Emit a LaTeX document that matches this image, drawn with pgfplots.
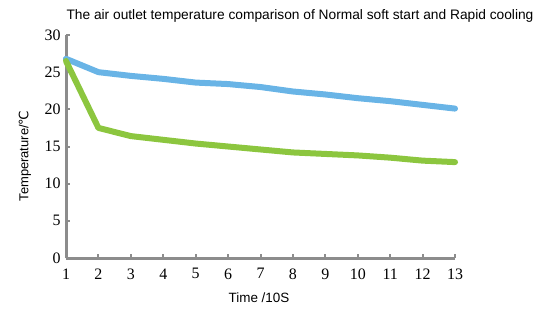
\documentclass[border=0pt]{standalone}
\usepackage{pgfplots}
\pgfplotsset{compat=1.18}
\usepackage{fontspec}
\setmainfont{Liberation Serif}
\newfontfamily\arial{Liberation Sans}
\newfontfamily\dejavu{DejaVu Sans}
\definecolor{cblue}{RGB}{105,180,230}
\definecolor{cgreen}{RGB}{140,198,63}
\definecolor{axgray}{RGB}{140,140,140}
\begin{document}
\begin{tikzpicture}[x=1bp,y=1bp]
\path[use as bounding box] (0,0) rectangle (544,312);
\begin{axis}[
  at={(66bp,54bp)}, anchor=south west,
  scale only axis, width=389bp, height=223bp,
  xmin=1, xmax=13, ymin=0, ymax=30,
  xtick={1,...,13}, ytick={0,5,...,30},
  axis x line*=bottom, axis y line*=left,
  axis line style={axgray, line width=3bp, -},
  tick style={axgray, line width=2bp},
  major tick length=4bp,
  tick align=inside,
  tick label style={font=\fontsize{16}{18}\selectfont},
  /pgf/number format/assume math mode=true,
  xticklabel style={yshift=-7bp},
  yticklabel style={xshift=-2bp},
  clip=false,
]
\addplot[cblue, line width=6bp, line cap=round, line join=round] coordinates {
(1,26.8) (2,25.0) (3,24.5) (4,24.1) (5,23.6) (6,23.4) (7,23.0) (8,22.4) (9,22.0) (10,21.5) (11,21.1) (12,20.6) (13,20.1)};
\addplot[cgreen, line width=6bp, line cap=round, line join=round] coordinates {
(1,26.5) (2,17.5) (3,16.4) (4,15.9) (5,15.4) (6,15.0) (7,14.6) (8,14.2) (9,14.0) (10,13.8) (11,13.5) (12,13.1) (13,12.9)};
\end{axis}
\node[font=\arial\fontsize{13.8}{15}\selectfont] at (300,296) {The air outlet temperature comparison of Normal soft start and Rapid cooling};
\node[font=\arial\fontsize{13.5}{15}\selectfont] at (259,14) {Time /10S};
\node[font=\arial\fontsize{13}{15}\selectfont, rotate=90] at (25,156) {Temperature/{\dejavu ℃}};
\end{tikzpicture}
\end{document}
